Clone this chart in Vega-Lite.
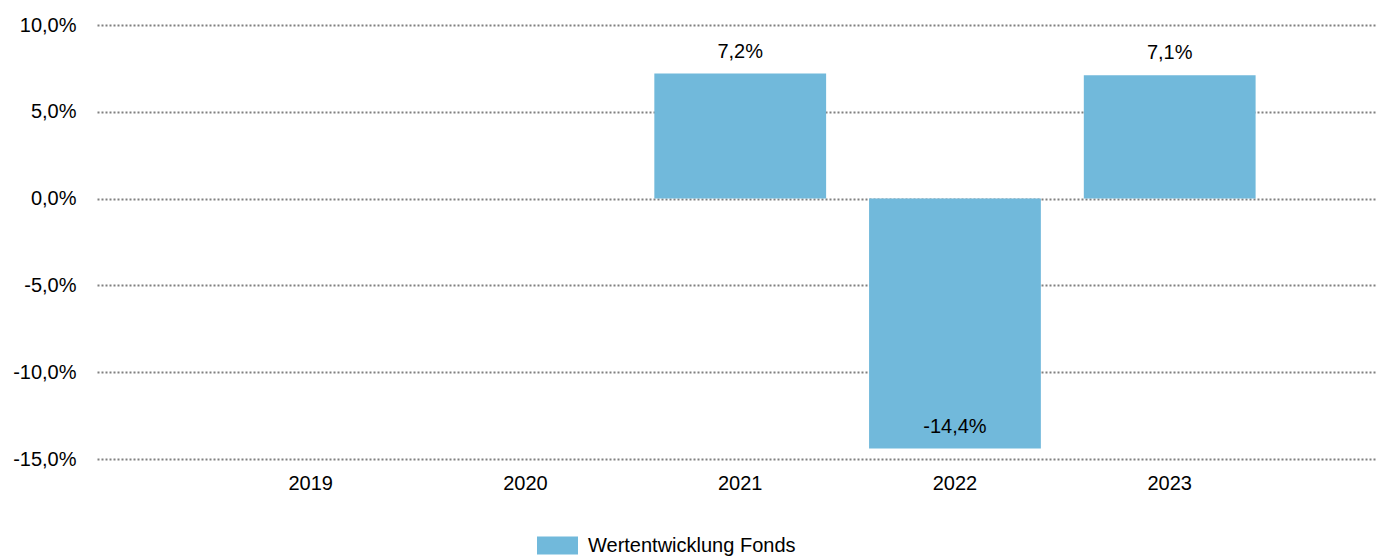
{
  "$schema": "https://vega.github.io/schema/vega-lite/v6.json",
  "width": 1279,
  "height": 434,
  "autosize": {"type": "none"},
  "padding": {"left": 97, "top": 25, "right": 0, "bottom": 98},
  "background": "white",
  "data": {
    "values": [
      {"year": "2019", "value": null, "series": "Wertentwicklung Fonds"},
      {"year": "2020", "value": null, "series": "Wertentwicklung Fonds"},
      {"year": "2021", "value": 7.2, "series": "Wertentwicklung Fonds"},
      {"year": "2022", "value": -14.4, "series": "Wertentwicklung Fonds"},
      {"year": "2023", "value": 7.1, "series": "Wertentwicklung Fonds"}
    ]
  },
  "encoding": {
    "x": {
      "field": "year",
      "type": "nominal",
      "sort": null,
      "scale": {"domain": ["2019", "2020", "2021", "2022", "2023"], "paddingInner": 0.2, "paddingOuter": 0.578, "align": 0.515},
      "axis": {"title": null, "labelAngle": 0, "domain": false, "ticks": false, "grid": false, "labelPadding": 14, "labelFontSize": 20, "labelColor": "#000000", "labelFont": "Liberation Sans"}
    },
    "y": {
      "field": "value",
      "type": "quantitative",
      "scale": {"domain": [-15, 10], "nice": false, "zero": false},
      "axis": {
        "title": null,
        "values": [-15, -10, -5, 0, 5, 10],
        "domain": false,
        "ticks": false,
        "grid": true,
        "gridColor": "#808080",
        "gridDash": [2, 2],
        "gridWidth": 2,
        "labelPadding": 21,
        "labelFontSize": 20,
        "labelColor": "#000000",
        "labelFont": "Liberation Sans",
        "labelExpr": "replace(replace(format(datum.value, '.1f'), '.', ','), '\u2212', '-') + '%'"
      }
    }
  },
  "layer": [
    {
      "mark": {"type": "bar", "color": "#71b9db"},
      "encoding": {
        "color": {
          "field": "series",
          "type": "nominal",
          "scale": {"range": ["#71b9db"]},
          "legend": {
            "title": null,
            "orient": "none",
            "legendX": 440,
            "legendY": 500,
            "symbolType": "M-1,-0.44H1V0.44H-1Z",
            "symbolSize": 1681,
            "symbolStrokeWidth": 0,
            "labelFontSize": 20,
            "labelFont": "Liberation Sans",
            "labelColor": "#000000",
            "labelOffset": 10,
            "labelLimit": 0,
            "padding": 0
          }
        }
      }
    },
    {
      "mark": {"type": "text", "baseline": "alphabetic", "dy": -16, "fontSize": 20, "font": "Liberation Sans", "color": "#000000"},
      "encoding": {
        "text": {"field": "label", "type": "nominal"}
      },
      "transform": [
        {"filter": "datum.value != null"},
        {"calculate": "replace(replace(format(datum.value, '.1f'), '.', ','), '\u2212', '-') + '%'", "as": "label"}
      ]
    }
  ],
  "config": {
    "view": {"stroke": null},
    "font": "Liberation Sans"
  }
}
